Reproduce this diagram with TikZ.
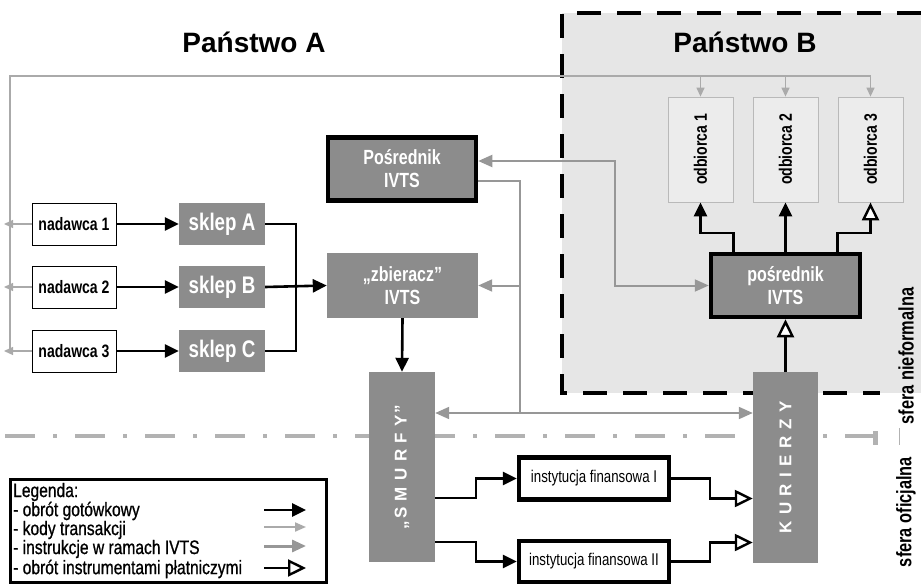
\documentclass[tikz,border=0pt]{standalone}
\usepackage{fontspec}
\usepackage{graphicx}
\setmainfont{Liberation Sans}
\newfontfamily\nf{Liberation Sans}[FakeStretch=0.78]
\newfontfamily\lf{Liberation Sans}[FakeStretch=0.8,FakeBold=0.8]
\newfontfamily\spf{Liberation Sans}[LetterSpace=10]
\usetikzlibrary{arrows.meta,calc}
\definecolor{boxgray}{HTML}{8C8C8C}
\definecolor{regiongray}{HTML}{E6E6E6}
\definecolor{obox}{HTML}{ECECEC}
\definecolor{kodycol}{HTML}{AAAAAA}
\definecolor{instrcol}{HTML}{979797}
\begin{document}
\begin{tikzpicture}[x=1pt,y=-1pt,
  graybox/.style={fill=boxgray, draw=none, text=white, inner sep=0pt, align=center},
  thickbox/.style={graybox, draw=black, line width=4.5pt},
  sklepbox/.style={graybox, minimum width=86pt, minimum height=42pt, font=\nf\bfseries\fontsize{24}{26}\selectfont},
  nadbox/.style={draw=black, line width=0.8pt, fill=white, minimum width=84pt, minimum height=42pt, inner sep=0pt, font=\nf\bfseries\fontsize{18}{20}\selectfont},
  odbbox/.style={draw=gray!55, line width=0.8pt, fill=obox, minimum width=65pt, minimum height=105pt, inner sep=0pt, font=\nf\bfseries\fontsize{18}{20}\selectfont},
  instbox/.style={draw=black, line width=4.5pt, fill=white, minimum width=150pt, minimum height=42pt, inner sep=0pt, font=\nf\fontsize{17}{19}\selectfont},
  ivtsfont/.style={font=\nf\bfseries\fontsize{20.5}{23}\selectfont},
  vertbox/.style={graybox, minimum width=66pt, minimum height=190pt, font=\spf\bfseries\fontsize{17}{19}\selectfont},
  legtext/.style={anchor=west, inner sep=0pt, font=\lf\fontsize{19.5}{20}\selectfont},
  sferatext/.style={inner sep=0pt, font=\nf\bfseries\fontsize{21}{22}\selectfont},
  cashline/.style={draw=black, line width=2.6pt},
  cash/.style={cashline, -{Triangle[length=14pt,width=13pt]}},
  instrument/.style={draw=black, line width=2.4pt, -{Triangle[length=18pt,width=17pt,fill=white,line width=2.4pt]}},
  kody/.style={draw=kodycol, line width=1.3pt},
  kodyarr/.style={kody, -{Triangle[length=9pt,width=8pt]}},
  instr/.style={draw=instrcol, line width=2pt},
  instrarr/.style={instr, -{Triangle[length=14pt,width=12pt]}},
  instrboth/.style={instr, {Triangle[length=14pt,width=12pt]}-{Triangle[length=14pt,width=12pt]}},
  regdash/.style={draw=black, line width=3.5pt, dash pattern=on 24pt off 16pt},
  sferaline/.style={draw=gray!60, line width=4pt, dash pattern=on 30pt off 18pt on 4pt off 18pt}
]
\useasboundingbox (0,0) rectangle (921,586);

% Panstwo B region
\fill[regiongray] (562,13) rectangle (921,393);
\draw[regdash] (921,13) -- (562,13) -- (562,393) -- (880,393);

% dash-dot border line between spheres
\draw[sferaline] (5,436) -- (885,436);
\fill[gray!60] (873,431) rectangle (878,445);
\draw[gray!60, line width=1pt] (899,428) -- (899,445);

% titles
\node[anchor=base, inner sep=0pt, font=\bfseries\fontsize{28}{30}\selectfont] (tA) at (254,53) {Państwo A};
\node[anchor=base, inner sep=0pt, font=\bfseries\fontsize{28}{30}\selectfont] (tB) at (745,53) {Państwo B};

% nadawca
\node[nadbox] (nad1) at (74,224) {nadawca 1};
\node[nadbox] (nad2) at (74,287) {nadawca 2};
\node[nadbox] (nad3) at (74,351) {nadawca 3};

% sklep
\node[sklepbox] (sA) at (222,224) {sklep A};
\node[sklepbox] (sB) at (222,287) {sklep B};
\node[sklepbox] (sC) at (222,351) {sklep C};

% IVTS boxes
\node[thickbox, ivtsfont, minimum width=148pt, minimum height=63pt] (posA) at (402,169) {Pośrednik\\IVTS};
\node[graybox, ivtsfont, minimum width=151pt, minimum height=65pt] (zb) at (402.5,285.5) {„zbieracz”\\IVTS};
\node[thickbox, ivtsfont, minimum width=149pt, minimum height=63pt] (posB) at (785.5,285.5) {pośrednik\\IVTS};

% SMURFY, KURIERZY
\node[vertbox] (smurfy) at (402,467) {\rotatebox{90}{„S M U R F Y”}};
\node[vertbox, minimum width=65pt, minimum height=191pt] (kur) at (785.5,467.5) {\rotatebox{90}{K U R I E R Z Y}};

% odbiorca
\node[odbbox] (o1) at (700.5,149.5) {\rotatebox{90}{odbiorca 1}};
\node[odbbox] (o2) at (785.5,149.5) {\rotatebox{90}{odbiorca 2}};
\node[odbbox] (o3) at (870.5,149.5) {\rotatebox{90}{odbiorca 3}};

% instytucje
\node[instbox] (inst1) at (594,478.5) {instytucja finansowa I};
\node[instbox, minimum height=41pt] (inst2) at (594,561.5) {instytucja finansowa II};

% sfera labels
\node[sferatext] (sn) at (906,356) {\rotatebox{90}{sfera nieformalna}};
\node[sferatext] (so) at (906,512) {\rotatebox{90}{sfera oficjalna}};

% helper coordinates
\coordinate (tl) at (10,76);
\coordinate (jA) at (296,287);
\coordinate (vx) at (615,0);
\coordinate (vy) at (520,0);
\coordinate (hl) at (0,413);
\coordinate (sx) at (476,0);
\coordinate (kx) at (710,0);
\coordinate (py) at (0,233);
\coordinate (kA) at ($(kur.west)+(0,31)$);
\coordinate (kB) at ($(kur.west)+(0,75)$);

% kody transakcji (light gray)
\draw[kodyarr] (tl |- nad3.west) -- (tl) -| (o3.north);
\draw[kodyarr] (tl -| o1.north) -- (o1.north);
\draw[kodyarr] (tl -| o2.north) -- (o2.north);
\draw[kodyarr] (nad1.west) -- ($(tl |- nad1.west)+(-6,0)$);
\draw[kodyarr] (nad2.west) -- ($(tl |- nad2.west)+(-6,0)$);
\draw[kodyarr] (nad3.west) -- ($(tl |- nad3.west)+(-6,0)$);

% instrukcje IVTS (medium gray)
\draw[instrboth] ($(posA.east)+(0,-8)$) -| (vx |- posB.west) -- (posB.west);
\draw[instr] ($(posA.east)+(0,12)$) -| (vy |- hl);
\draw[instrarr] (vy |- zb.east) -- (zb.east);
\draw[instrboth] (smurfy.east |- hl) -- (kur.west |- hl);

% cash flows
\draw[cash] (nad1.east) -- (sA.west);
\draw[cash] (nad2.east) -- (sB.west);
\draw[cash] (nad3.east) -- (sC.west);
\draw[cashline] (sA.east) -| (jA) |- (sC.east);
\draw[cash] (sB.east) -- (zb.west);
\draw[cash] (zb.south) -- (smurfy.north);
\draw[cash] ($(smurfy.east)+(0,31)$) -| (sx |- inst1.west) -- (inst1.west);
\draw[cash] ($(smurfy.east)+(0,75)$) -| (sx |- inst2.west) -- (inst2.west);
\draw[cash] ($(posB.north)+(-52,0)$) |- (o1.south |- py) -- (o1.south);
\draw[cash] (posB.north) -- (o2.south);

% payment instruments
\draw[instrument] (inst1.east) -| (kx |- kA) -- (kA);
\draw[instrument] (inst2.east) -| (kx |- kB) -- (kB);
\draw[instrument] (kur.north) -- (posB.south);
\draw[instrument] ($(posB.north)+(52,0)$) |- (o3.south |- py) -- (o3.south);

% legend
\node[draw=black, line width=3pt, fill=white, minimum width=316pt, minimum height=103pt, inner sep=0pt] (leg) at (168.5,531) {};
\node[legtext] (l0) at (13,492) {Legenda:};
\node[legtext] (l1) at (13,511) {- obrót gotówkowy};
\node[legtext] (l2) at (13,530) {- kody transakcji};
\node[legtext] (l3) at (13,549) {- instrukcje w ramach IVTS};
\node[legtext] (l4) at (13,569) {- obrót instrumentami płatniczymi};
\coordinate (a1s) at (264,510); \coordinate (a1e) at (306,510);
\coordinate (a2s) at (264,527); \coordinate (a2e) at (306,527);
\coordinate (a3s) at (264,546); \coordinate (a3e) at (306,546);
\coordinate (a4s) at (264,568); \coordinate (a4e) at (306,568);
\draw[cash] (a1s) -- (a1e);
\draw[kodyarr, line width=2pt, -{Triangle[length=11pt,width=9pt]}] (a2s) -- (a2e);
\draw[instrarr, line width=3pt] (a3s) -- (a3e);
\draw[instrument] (a4s) -- (a4e);
\end{tikzpicture}
\end{document}
